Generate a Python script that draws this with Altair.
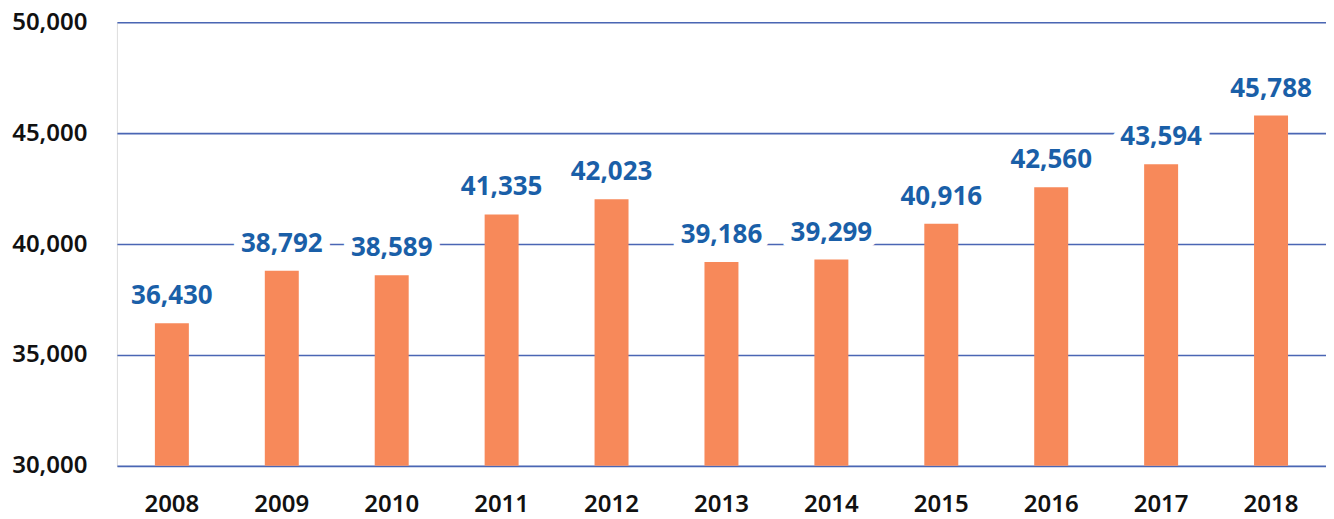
import altair as alt
import pandas as pd

years = ["2008", "2009", "2010", "2011", "2012", "2013", "2014", "2015", "2016", "2017", "2018"]
values = [36430, 38792, 38589, 41335, 42023, 39186, 39299, 40916, 42560, 43594, 45788]
y_ticks = [30000, 35000, 40000, 45000, 50000]

df = pd.DataFrame({"year": years, "value": values})

FONT = "Noto Sans"
BAR = "#f7895a"
LABEL = "#1a5fa8"
GRID = "#4a66b4"

x = alt.X("year:N", sort=years, title=None,
          scale=alt.Scale(paddingOuter=0.0, paddingInner=0.0),
          axis=alt.Axis(labelAngle=0, ticks=False, domain=False, labelPadding=27,
                        labelFont=FONT, labelFontSize=24, labelFontWeight=600,
                        labelColor="#111111"))
y = alt.Y("value:Q", title=None,
          scale=alt.Scale(domain=[30000, 50000], nice=False, zero=False),
          axis=alt.Axis(values=y_ticks, format=",.0f", ticks=False, domain=False,
                        labelPadding=30, labelFont=FONT, labelFontSize=24,
                        labelFontWeight=600, labelColor="#111111",
                        grid=True, gridColor=GRID, gridWidth=1.6))

base = alt.Chart(df)

bars = base.mark_bar(size=34, color=BAR, clip=True).encode(x=x, y=y)

halo = base.mark_text(dy=-27, baseline="middle", font=FONT, fontSize=26,
                      fontWeight="bold", color="white", stroke="white",
                      strokeWidth=16, strokeJoin="miter").encode(
    x=x, y=y, text=alt.Text("value:Q", format=",.0f"))

labels = base.mark_text(dy=-27, baseline="middle", font=FONT, fontSize=26,
                        fontWeight="bold", color=LABEL).encode(
    x=x, y=y, text=alt.Text("value:Q", format=",.0f"))

chart = alt.layer(bars, halo, labels).properties(
    width=1210, height=444,
    autosize="none",
    padding={"left": 109, "top": 14, "right": 0, "bottom": 60},
).configure_view(stroke=None).configure(background="white")

chart.save("out.html", embed_options={"renderer": "svg", "actions": False})
